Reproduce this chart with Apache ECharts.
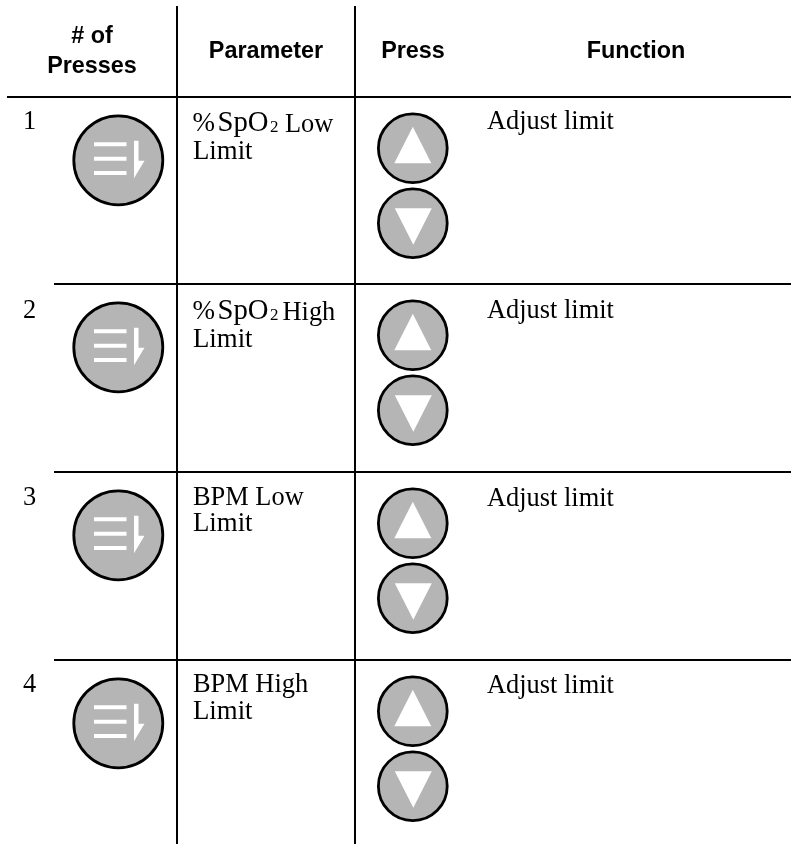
<!DOCTYPE html>
<html>
<head>
<meta charset="utf-8">
<style>html,body{margin:0;padding:0;background:#fff;overflow:hidden}#c{width:791px;height:844px}</style>
<script src="https://cdn.jsdelivr.net/npm/echarts@6/dist/echarts.min.js"></script>
</head>
<body>
<div id="c"></div>
<script>
const headerLabels = ['# of', 'Presses', 'Parameter', 'Press', 'Function'];
const pressCounts = ['1', '2', '3', '4'];
const parameterSegments = [
  [['%', 'SpO', '2', 'Low'], 'Limit'],
  [['%', 'SpO', '2', 'High'], 'Limit'],
  [['BPM Low'], 'Limit'],
  [['BPM High'], 'Limit']
];
const functionLabels = ['Adjust limit', 'Adjust limit', 'Adjust limit', 'Adjust limit'];

const rowTops = [97, 284, 472, 660];
const columnRules = [177, 355];
const headerX = [92, 92, 266, 413, 636];
const headerBaselines = [43, 73, 58, 58, 58];
const numberOffsets = [32, 34.3, 33.3, 32.7];
const paramOffsets = [35, 36, 33.3, 32.7];
const limitOffsets = [62.7, 63.3, 60, 60];
const functionOffsets = [32.3, 34, 34, 33];

const SERIF = '"Liberation Serif","Times New Roman",serif';
const SANS = '"Liberation Sans",Arial,sans-serif';
const GREY = '#b5b5b5';

function textEl(coord, str, x, baseline, size, family, weight, align) {
  const p = coord([x, baseline]);
  const k = family === SANS ? 0.3465 : 0.3375;
  return {
    type: 'text',
    style: {
      text: str, x: p[0], y: p[1] - size * k + 1.5,
      font: (weight || 'normal') + ' ' + size + 'px ' + family,
      fill: '#000', align: align || 'left', verticalAlign: 'middle'
    }
  };
}
function circleEl(coord, x, y, r) {
  const p = coord([x, y]);
  return { type: 'circle', shape: { cx: p[0], cy: p[1], r: r },
    style: { fill: GREY, stroke: '#000', lineWidth: 2.8 } };
}
function polyEl(coord, pts) {
  return { type: 'polygon', shape: { points: pts.map(coord) }, style: { fill: '#fff' } };
}
function rectEl(coord, x0, y0, x1, y1) {
  const a = coord([x0, y0]), b = coord([x1, y1]);
  return { type: 'rect', shape: { x: a[0], y: a[1], width: b[0] - a[0], height: b[1] - a[1] }, style: { fill: '#fff' } };
}
function lineEl(coord, x0, y0, x1, y1) {
  const a = coord([x0, y0]), b = coord([x1, y1]);
  return { type: 'line', shape: { x1: a[0], y1: a[1], x2: b[0], y2: b[1] }, style: { stroke: '#000', lineWidth: 2 } };
}

function renderRow(params, api) {
  const i = params.dataIndex, top = rowTops[i];
  const c = api.coord.bind(api);
  const kids = [];
  kids.push(textEl(c, pressCounts[i], 23, top + numberOffsets[i], 26.4, SERIF));
  const my = top + 63.3;
  kids.push(circleEl(c, 118.3, my, 44.5));
  [-16, -1.6, 12.6].forEach(d => kids.push(rectEl(c, 94, my + d - 2, 126.5, my + d + 2)));
  kids.push(polyEl(c, [[134, my - 19.5], [138.5, my - 19.5], [138.5, my + 0.5], [144.5, my + 0.5], [134, my + 18]]));
  const seg = parameterSegments[i], b = top + paramOffsets[i];
  if (seg[0].length > 1) {
    kids.push(textEl(c, seg[0][0], 192.5, b, 27, SERIF));
    kids.push(textEl(c, seg[0][1], 217.5, b, 28.7, SERIF));
    kids.push(textEl(c, seg[0][2], 270, b, 17, SERIF));
    kids.push(textEl(c, seg[0][3], i === 0 ? 285 : 282.5, b, 26.4, SERIF));
  } else {
    kids.push(textEl(c, seg[0][0], 193, b, 26.4, SERIF));
  }
  kids.push(textEl(c, seg[1], 193, top + limitOffsets[i], 26.8, SERIF));
  const ux = 412.8, uy = top + 51.3, dy = top + 126.2;
  kids.push(circleEl(c, ux, uy, 34.4));
  kids.push(polyEl(c, [[ux, uy - 21.5], [ux + 18.5, uy + 15], [ux - 18.5, uy + 15]]));
  kids.push(circleEl(c, ux, dy, 34.4));
  kids.push(polyEl(c, [[ux + 0.5, dy + 21.5], [ux - 18, dy - 15], [ux + 19, dy - 15]]));
  kids.push(textEl(c, functionLabels[i], 487, top + functionOffsets[i], 26.4, SERIF));
  return { type: 'group', children: kids };
}

function renderFrame(params, api) {
  const c = api.coord.bind(api);
  const kids = [];
  columnRules.forEach(x => kids.push(lineEl(c, x, 6, x, 844)));
  rowTops.forEach((y, i) => kids.push(lineEl(c, i === 0 ? 7 : 54, y, 791, y)));
  headerLabels.forEach((t, i) => kids.push(textEl(c, t, headerX[i], headerBaselines[i], 23.4, SANS, 'bold', 'center')));
  return { type: 'group', children: kids };
}

const chart = echarts.init(document.getElementById('c'), null, { renderer: 'canvas' });
chart.setOption({
  animation: false,
  backgroundColor: '#fff',
  grid: { left: 0, right: 0, top: 0, bottom: 0 },
  xAxis: { type: 'value', min: 0, max: 791, show: false },
  yAxis: { type: 'value', min: 0, max: 844, inverse: true, show: false },
  series: [
    { type: 'custom', coordinateSystem: 'cartesian2d', silent: true, clip: false,
      renderItem: renderFrame, data: [[0, 0]], encode: { x: 0, y: 1 } },
    { type: 'custom', coordinateSystem: 'cartesian2d', silent: true, clip: false,
      renderItem: renderRow, data: rowTops.map(t => [0, t]), encode: { x: 0, y: 1 } }
  ]
});
</script>
</body>
</html>
